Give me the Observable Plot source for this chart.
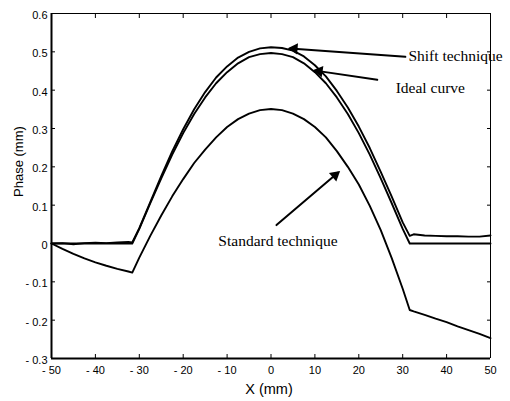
<!DOCTYPE html>
<html><head><meta charset="utf-8">
<script src="https://cdn.jsdelivr.net/npm/d3@7"></script>
<script src="https://cdn.jsdelivr.net/npm/@observablehq/plot@0.6"></script>
<style>body{margin:0;background:#fff}</style>
</head><body><div id="chart"></div>
<script>
const xs = [-50,-47.5,-45,-42.5,-40,-37.5,-35,-32.5,-31.6,-30,-27.5,-25,-22.5,-20,-17.5,-15,-12.5,-10,-7.5,-5,-2.5,0,2.5,5,7.5,10,12.5,15,17.5,20,22.5,25,27.5,30,31.6,32.5,35,37.5,40,42.5,45,47.5,50];
const idealPhase = [0,0,0,0,0,0,0,0,0,
  0.038,0.105,0.17,0.232,0.288,0.338,0.381,0.418,0.447,0.47,0.486,0.494,0.497,0.494,0.486,0.47,0.447,0.418,0.381,0.338,0.288,0.232,0.17,0.105,0.038,
  0,0,0,0,0,0,0,0,0];
const shiftPhase = [0,0.001,-0.002,0.001,0.002,0.001,0.003,0.004,0.003,
  0.04,0.108,0.176,0.24,0.298,0.35,0.395,0.433,0.462,0.485,0.5,0.509,0.512,0.51,0.503,0.488,0.465,0.436,0.398,0.355,0.305,0.249,0.187,0.122,0.055,
  0.02,0.024,0.021,0.02,0.019,0.019,0.018,0.018,0.021];
const standardPhase = [0,-0.014,-0.027,-0.039,-0.049,-0.058,-0.066,-0.073,-0.076,
  -0.037,0.02,0.073,0.123,0.168,0.21,0.245,0.277,0.304,0.3245,0.339,0.348,0.351,0.348,0.339,0.3245,0.304,0.277,0.241,0.2,0.154,0.098,0.035,-0.038,-0.118,
  -0.1735,-0.177,-0.186,-0.196,-0.205,-0.216,-0.226,-0.236,-0.247];

const xTicks = [-50,-40,-30,-20,-10,0,10,20,30,40,50];
const xTickLabels = ["- 50","- 40","- 30","- 20","- 10","0","10","20","30","40","50"];
const yTicks = [-0.3,-0.2,-0.1,0,0.1,0.2,0.3,0.4,0.5,0.6];
const yTickLabels = ["- 0.3","- 0.2","- 0.1","0","0.1","0.2","0.3","0.4","0.5","0.6"];

const noteTexts = ["Shift technique","Ideal curve","Standard technique"];
const noteX = [31.3, 28.4, -12.0];
const noteY = [0.489, 0.405, 0.0065];
const arrowX1 = [30.6, 24.2, 1.25];
const arrowY1 = [0.487, 0.427, 0.048];
const arrowX2 = [4.4, 10.1, 15.3];
const arrowY2 = [0.509, 0.451, 0.185];

const series = [
  ...xs.map((x,i)=>({x, v: idealPhase[i], s:"ideal"})),
  ...xs.map((x,i)=>({x, v: shiftPhase[i], s:"shift"})),
  ...xs.map((x,i)=>({x, v: standardPhase[i], s:"standard"}))
];
const notes = noteTexts.map((t,i)=>({t, x: noteX[i], y: noteY[i]}));
const arrows = arrowX1.map((_,i)=>({x1: arrowX1[i], y1: arrowY1[i], x2: arrowX2[i], y2: arrowY2[i]}));

const opts = {
  width: 510, height: 401,
  marginLeft: 51, marginRight: 20, marginTop: 13, marginBottom: 43,
  style: {fontFamily: "Liberation Sans, Arial, sans-serif", background: "white", overflow: "visible", color: "black"},
  x: {domain: [-50, 50]},
  y: {domain: [-0.3, 0.6]}
};

function baseMarks() {
  return [
    Plot.line(series, {x: "x", y: "v", z: "s", stroke: "black", strokeWidth: 1.9}),
    Plot.ruleX([-50], {stroke: "black", strokeWidth: 2}),
    Plot.ruleY([-0.3], {stroke: "black", strokeWidth: 2}),
    Plot.ruleX([50], {stroke: "black", strokeWidth: 1}),
    Plot.ruleY([0.6], {stroke: "black", strokeWidth: 1}),
    Plot.axisX(xTicks.slice(1,-1), {anchor: "bottom", tickSize: -4, tickFormat: () => "", label: null}),
    Plot.axisX(xTicks.slice(1,-1), {anchor: "top", tickSize: -4, tickFormat: () => "", label: null}),
    Plot.axisY(yTicks.slice(1,-1), {anchor: "left", tickSize: -4, tickFormat: () => "", label: null}),
    Plot.axisY(yTicks.slice(1,-1), {anchor: "right", tickSize: -4, tickFormat: () => "", label: null}),
    Plot.axisX(xTicks, {anchor: "bottom", tickSize: 0, tickPadding: 8, fontSize: 11, label: null,
      tickFormat: d => xTickLabels[xTicks.indexOf(d)]}),
    Plot.axisY(yTicks, {anchor: "left", tickSize: 0, tickPadding: 4, dy: 2, fontSize: 11, label: null,
      tickFormat: d => yTickLabels[yTicks.indexOf(d)]}),
    Plot.text(["X (mm)"], {text: d => d, frameAnchor: "bottom", dy: 35, dx: -2, fontSize: 14.5}),
    Plot.text(["Phase (mm)"], {text: d => d, frameAnchor: "left", dx: -33, dy: 11, rotate: -90, fontSize: 13}),
    Plot.arrow(arrows, {x1: "x1", y1: "y1", x2: "x2", y2: "y2", stroke: "black", strokeWidth: 2, headLength: 0}),
    Plot.text(notes, {x: "x", y: "y", text: "t", textAnchor: "start", fontFamily: "Liberation Serif, Times New Roman, serif", fontSize: 15.5})
  ];
}

// first pass to obtain the scales, then add filled arrow heads oriented in screen space
const probe = Plot.plot({...opts, marks: baseMarks()});
const sx = probe.scale("x"), sy = probe.scale("y");
const heads = arrows.map(a => {
  const px1 = sx.apply(a.x1), py1 = sy.apply(a.y1), px2 = sx.apply(a.x2), py2 = sy.apply(a.y2);
  const th = Math.atan2(py2 - py1, px2 - px1);
  return Plot.dot([a], {x: "x2", y: "y2", symbol: "triangle", r: 4.2, fill: "black", stroke: "none",
    rotate: th * 180 / Math.PI + 90, dx: -Math.cos(th) * 4, dy: -Math.sin(th) * 4});
});
const chart = Plot.plot({...opts, marks: [...baseMarks(), ...heads]});
document.getElementById("chart").appendChild(chart);
</script>
</body></html>
